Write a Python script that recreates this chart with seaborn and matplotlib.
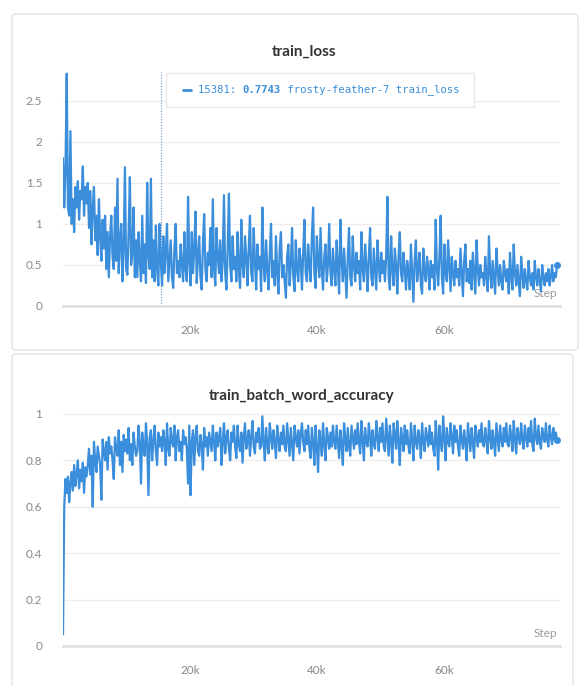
import matplotlib
matplotlib.use("Agg")
import matplotlib.pyplot as plt
import seaborn as sns
import numpy as np
import pandas as pd
from matplotlib.patches import FancyBboxPatch, Rectangle

# logged every 195 steps
STEP_EVERY = 195

loss_values = [
    1.80, 1.20, 1.65, 2.83, 1.20, 1.10, 2.13, 1.00, 1.30, 0.90, 1.45, 1.20, 1.52, 1.05, 1.40, 1.30, 1.70, 1.10, 1.45, 1.25,
    1.50, 0.95, 1.40, 0.75, 1.20, 1.45, 0.80, 1.10, 0.62, 1.30, 0.85, 0.55, 1.05, 0.70, 1.10, 0.45, 0.90, 0.35, 0.85, 1.10,
    0.60, 0.45, 1.20, 0.55, 1.55, 0.40, 0.80, 1.00, 0.30, 0.70, 1.69, 0.45, 0.38, 0.90, 1.57, 0.50, 0.65, 1.20, 0.35, 0.80,
    0.35, 0.90, 0.55, 0.30, 1.10, 0.40, 0.75, 0.28, 1.50, 0.60, 0.45, 1.55, 0.35, 0.80, 0.30, 0.98, 0.45, 0.25, 1.00, 0.55,
    0.25, 0.85, 0.40, 0.65, 1.00, 0.30, 0.55, 0.80, 0.35, 0.22, 0.70, 1.00, 0.40, 0.55, 0.35, 0.75, 0.50, 0.30, 0.90, 0.45,
    0.30, 1.33, 0.55, 0.25, 0.90, 0.40, 0.70, 1.15, 0.28, 0.60, 0.85, 0.35, 0.20, 0.75, 1.12, 0.45, 0.30, 0.65, 0.50, 0.95,
    0.35, 1.30, 0.45, 0.25, 0.95, 0.60, 0.40, 0.80, 0.30, 0.55, 1.35, 0.40, 0.20, 0.70, 1.37, 0.50, 0.30, 0.85, 0.45, 0.60,
    0.30, 0.90, 0.45, 0.22, 1.05, 0.50, 0.35, 0.85, 0.60, 0.25, 0.70, 1.10, 0.40, 0.30, 0.95, 0.55, 0.20, 0.75, 0.45, 0.60,
    0.18, 1.20, 0.50, 0.30, 0.80, 0.45, 0.20, 0.65, 1.00, 0.35, 0.55, 0.25, 0.85, 0.40, 0.15, 0.70, 0.90, 0.35, 0.50, 0.30,
    0.10, 0.60, 0.75, 0.25, 0.50, 0.95, 0.35, 0.18, 0.80, 0.45, 0.30, 0.70, 0.55, 0.20, 0.65, 1.05, 0.40, 0.30, 0.75, 0.50,
    0.30, 0.85, 1.20, 0.40, 0.22, 0.85, 0.55, 0.35, 0.95, 0.45, 0.20, 0.60, 0.75, 0.30, 0.50, 1.00, 0.40, 0.25, 0.70, 0.45,
    0.25, 0.80, 0.45, 0.15, 1.05, 0.55, 0.30, 0.70, 0.40, 0.10, 0.60, 0.95, 0.35, 0.25, 0.85, 0.50, 0.30, 0.65, 0.40, 0.55,
    0.20, 0.90, 0.45, 0.30, 0.75, 0.50, 0.18, 0.60, 0.95, 0.35, 0.25, 0.70, 0.45, 0.20, 0.80, 0.50, 0.30, 0.65, 0.40, 0.55,
    0.30, 0.60, 1.33, 0.35, 0.20, 0.85, 0.45, 0.25, 0.70, 0.50, 0.15, 0.60, 0.90, 0.40, 0.30, 0.65, 0.45, 0.20, 0.55, 0.40,
    0.20, 0.75, 0.40, 0.05, 0.55, 0.80, 0.30, 0.45, 0.65, 0.25, 0.15, 0.70, 0.40, 0.30, 0.60, 0.45, 0.20, 0.55, 0.35, 0.50,
    0.20, 1.05, 0.45, 0.25, 0.60, 1.10, 0.35, 0.15, 0.75, 0.40, 0.30, 0.80, 0.50, 0.18, 0.60, 0.40, 0.25, 0.55, 0.35, 0.45,
    0.25, 0.70, 0.40, 0.12, 0.55, 0.75, 0.30, 0.45, 0.28, 0.55, 0.20, 0.65, 0.40, 0.15, 0.80, 0.45, 0.25, 0.50, 0.35, 0.40,
    0.25, 0.60, 0.35, 0.18, 0.85, 0.40, 0.22, 0.55, 0.35, 0.15, 0.70, 0.45, 0.25, 0.50, 0.30, 0.20, 0.55, 0.40, 0.30, 0.45,
    0.15, 0.65, 0.35, 0.20, 0.75, 0.40, 0.25, 0.50, 0.30, 0.12, 0.60, 0.40, 0.22, 0.45, 0.30, 0.20, 0.55, 0.35, 0.25, 0.40,
    0.20, 0.55, 0.35, 0.25, 0.45, 0.30, 0.18, 0.50, 0.35, 0.25, 0.40, 0.30, 0.45, 0.25, 0.35, 0.50, 0.30, 0.40, 0.35, 0.50,
]

acc_values = [
    0.05, 0.60, 0.72, 0.66, 0.73, 0.62, 0.70, 0.75, 0.67, 0.78, 0.69, 0.74, 0.80, 0.68, 0.76, 0.71, 0.79, 0.66, 0.77, 0.73,
    0.78, 0.85, 0.74, 0.82, 0.60, 0.88, 0.80, 0.75, 0.86, 0.82, 0.78, 0.63, 0.89, 0.84, 0.80, 0.88, 0.76, 0.90, 0.83, 0.86,
    0.80, 0.72, 0.90, 0.85, 0.82, 0.93, 0.78, 0.88, 0.75, 0.91, 0.84, 0.89, 0.83, 0.94, 0.80, 0.87, 0.78, 0.92, 0.86, 0.82,
    0.84, 0.95, 0.88, 0.70, 0.92, 0.85, 0.82, 0.96, 0.87, 0.65, 0.90, 0.93, 0.80, 0.88, 0.95, 0.84, 0.78, 0.92, 0.86, 0.90,
    0.84, 0.93, 0.88, 0.78, 0.96, 0.85, 0.82, 0.94, 0.88, 0.86, 0.95, 0.80, 0.90, 0.93, 0.84, 0.88, 0.80, 0.93, 0.87, 0.90,
    0.85, 0.70, 0.95, 0.65, 0.88, 0.93, 0.78, 0.90, 0.95, 0.84, 0.82, 0.91, 0.87, 0.76, 0.94, 0.86, 0.90, 0.82, 0.92, 0.88,
    0.84, 0.95, 0.88, 0.80, 0.92, 0.86, 0.90, 0.94, 0.78, 0.88, 0.96, 0.83, 0.90, 0.93, 0.85, 0.80, 0.92, 0.88, 0.95, 0.86,
    0.81, 0.95, 0.87, 0.84, 0.92, 0.79, 0.90, 0.96, 0.85, 0.88, 0.93, 0.82, 0.90, 0.97, 0.86, 0.83, 0.92, 0.88, 0.94, 0.85,
    0.86, 0.99, 0.88, 0.80, 0.94, 0.87, 0.83, 0.96, 0.90, 0.85, 0.93, 0.88, 0.81, 0.95, 0.89, 0.84, 0.92, 0.87, 0.95, 0.86,
    0.84, 0.96, 0.89, 0.82, 0.94, 0.87, 0.80, 0.95, 0.90, 0.86, 0.93, 0.83, 0.91, 0.96, 0.88, 0.84, 0.93, 0.87, 0.95, 0.85,
    0.81, 0.94, 0.88, 0.78, 0.95, 0.86, 0.75, 0.93, 0.89, 0.82, 0.96, 0.87, 0.80, 0.94, 0.90, 0.85, 0.92, 0.86, 0.95, 0.88,
    0.85, 0.95, 0.88, 0.81, 0.93, 0.87, 0.78, 0.96, 0.89, 0.84, 0.94, 0.86, 0.82, 0.95, 0.90, 0.85, 0.93, 0.87, 0.96, 0.88,
    0.83, 0.97, 0.89, 0.80, 0.94, 0.88, 0.86, 0.96, 0.90, 0.82, 0.93, 0.87, 0.85, 0.97, 0.90, 0.84, 0.94, 0.88, 0.96, 0.86,
    0.84, 0.98, 0.90, 0.82, 0.95, 0.88, 0.79, 0.96, 0.91, 0.85, 0.97, 0.88, 0.78, 0.94, 0.90, 0.84, 0.95, 0.87, 0.93, 0.86,
    0.83, 0.96, 0.89, 0.80, 0.95, 0.88, 0.85, 0.93, 0.90, 0.81, 0.96, 0.88, 0.84, 0.94, 0.90, 0.86, 0.95, 0.87, 0.92, 0.85,
    0.82, 0.97, 0.89, 0.76, 0.95, 0.88, 0.84, 0.99, 0.90, 0.80, 0.94, 0.88, 0.86, 0.96, 0.90, 0.83, 0.95, 0.88, 0.93, 0.86,
    0.82, 0.95, 0.89, 0.85, 0.93, 0.88, 0.80, 0.96, 0.90, 0.84, 0.94, 0.88, 0.81, 0.95, 0.90, 0.86, 0.93, 0.88, 0.96, 0.87,
    0.86, 0.94, 0.89, 0.83, 0.97, 0.90, 0.85, 0.93, 0.88, 0.82, 0.96, 0.90, 0.84, 0.95, 0.89, 0.86, 0.94, 0.88, 0.96, 0.87,
    0.86, 0.95, 0.90, 0.84, 0.97, 0.89, 0.83, 0.94, 0.90, 0.87, 0.96, 0.89, 0.85, 0.95, 0.90, 0.86, 0.94, 0.88, 0.97, 0.87,
    0.84, 0.98, 0.90, 0.87, 0.95, 0.88, 0.85, 0.94, 0.90, 0.88, 0.96, 0.89, 0.86, 0.95, 0.90, 0.87, 0.94, 0.89, 0.92, 0.89,
]

x_ticks = [20000, 40000, 60000]
x_tick_labels = ['20k', '40k', '60k']
loss_y_ticks = [0, 0.5, 1, 1.5, 2, 2.5]
acc_y_ticks = [0, 0.2, 0.4, 0.6, 0.8, 1]

hover_step = 15381
hover_value = 0.7743
run_name = 'frosty-feather-7'

BLUE = '#3a8edb'
W, H = 580, 686


def px(x, y):
    # pixel position in the screenshot -> figure fraction
    return x / W, 1 - y / H


def ax_rect(left, right, top, bottom):
    return [left / W, 1 - bottom / H, (right - left) / W, (bottom - top) / H]


def style_axes(ax, yticks, ylim):
    ax.set_xlim(0, 78270)
    ax.set_ylim(*ylim)
    ax.set_facecolor('none')
    for s in ['top', 'right', 'left']:
        ax.spines[s].set_visible(False)
    ax.spines['bottom'].set_color('#e0e0e0')
    ax.spines['bottom'].set_linewidth(2)
    ax.set_xticks(x_ticks)
    ax.set_xticklabels(x_tick_labels)
    ax.set_yticks(yticks)
    ax.set_yticklabels([f'{v:g}' for v in yticks])
    ax.tick_params(axis='y', length=0, pad=15, labelsize=8.5, labelcolor='#888888')
    ax.tick_params(axis='x', direction='inout', length=8, width=1, color='#e0e0e0',
                   pad=10, labelsize=8.5, labelcolor='#888888')
    ax.grid(False)
    for v in yticks[1:]:
        ax.axhline(v, color='#eeeeee', linewidth=1, zorder=0)
    ax.set_xlabel('')
    ax.set_ylabel('')
    for lab in ax.get_xticklabels() + ax.get_yticklabels():
        lab.set_fontfamily('Lato')


sns.set_style('white')
plt.rcParams['font.family'] = ['Lato', 'DejaVu Sans']

fig = plt.figure(figsize=(W / 100, H / 100), dpi=100)
fig.patch.set_facecolor('white')

# panel cards, kept behind the axes
for (x0, y0, x1, y1) in [(12, 14, 578, 350), (12, 354, 573, 700)]:
    fx0, fy1 = px(x0, y0)
    fx1, fy0 = px(x1, y1)
    fig.patches.append(FancyBboxPatch((fx0, fy0), fx1 - fx0, fy1 - fy0,
                                      boxstyle='round,pad=0,rounding_size=0.006',
                                      transform=fig.transFigure, facecolor='white',
                                      edgecolor='#e4e4e4', linewidth=1, zorder=-5))

loss_df = pd.DataFrame({'Step': np.arange(len(loss_values)) * STEP_EVERY, 'train_loss': loss_values})
acc_df = pd.DataFrame({'Step': np.arange(len(acc_values)) * STEP_EVERY,
                       'train_batch_word_accuracy': acc_values})

# top panel: train_loss
ax1 = fig.add_axes(ax_rect(63, 560, 72, 306))
sns.lineplot(data=loss_df, x='Step', y='train_loss', ax=ax1, color=BLUE, linewidth=1.6,
             estimator=None, sort=False, zorder=3)
ax1.plot(loss_df['Step'].iloc[-1], loss_df['train_loss'].iloc[-1], 'o', color=BLUE,
         markersize=4, zorder=4, clip_on=False)
style_axes(ax1, loss_y_ticks, (0, 2.85))
ax1.axvline(hover_step, color='#6b8fb8', linewidth=0.8, linestyle=(0, (1, 1.5)), zorder=2)
ax1.text(0.995, 0.03, 'Step', transform=ax1.transAxes, ha='right', va='bottom',
         fontsize=8.5, color='#999999', zorder=1)
fig.text(*px(304, 52), 'train_loss', ha='center', va='center', fontsize=11,
         fontweight='bold', color='#333333')

# hover legend box
lx0, ly1 = px(166, 73)
lx1, ly0 = px(474, 107)
fig.patches.append(Rectangle((lx0, ly0), lx1 - lx0, ly1 - ly0, transform=fig.transFigure,
                             facecolor='white', edgecolor='#e8e8e8', linewidth=1, zorder=5))
lx, ly = px(183, 90)
fig.lines.append(plt.Line2D([lx, lx + 8 / W], [ly, ly], transform=fig.transFigure,
                            color=BLUE, linewidth=2, zorder=6))
mono = ['DejaVu Sans Mono']
renderer = fig.canvas.get_renderer()
tx, ty = px(198, 90)
parts = [(f'{hover_step}: ', 'normal'), (f'{hover_value:.4f}', 'bold'),
         (f' {run_name} train_loss', 'normal')]
for s, w in parts:
    t = fig.text(tx, ty, s, ha='left', va='center', fontsize=7.7, family=mono,
                 fontweight=w, color=BLUE, zorder=7)
    bb = t.get_window_extent(renderer=renderer)
    tx += bb.width / W

# bottom panel: train_batch_word_accuracy
ax2 = fig.add_axes(ax_rect(63, 560, 414 - 232 * 0.01, 646))
sns.lineplot(data=acc_df, x='Step', y='train_batch_word_accuracy', ax=ax2, color=BLUE,
             linewidth=1.6, estimator=None, sort=False, zorder=3)
ax2.plot(acc_df['Step'].iloc[-1], acc_df['train_batch_word_accuracy'].iloc[-1], 'o',
         color=BLUE, markersize=4, zorder=4, clip_on=False)
style_axes(ax2, acc_y_ticks, (0, 1.01))
ax2.text(0.995, 0.03, 'Step', transform=ax2.transAxes, ha='right', va='bottom',
         fontsize=8.5, color='#999999', zorder=1)
fig.text(*px(302, 396), 'train_batch_word_accuracy', ha='center', va='center',
         fontsize=11, fontweight='bold', color='#333333')

fig.savefig('out.png', dpi=100, facecolor='white')
